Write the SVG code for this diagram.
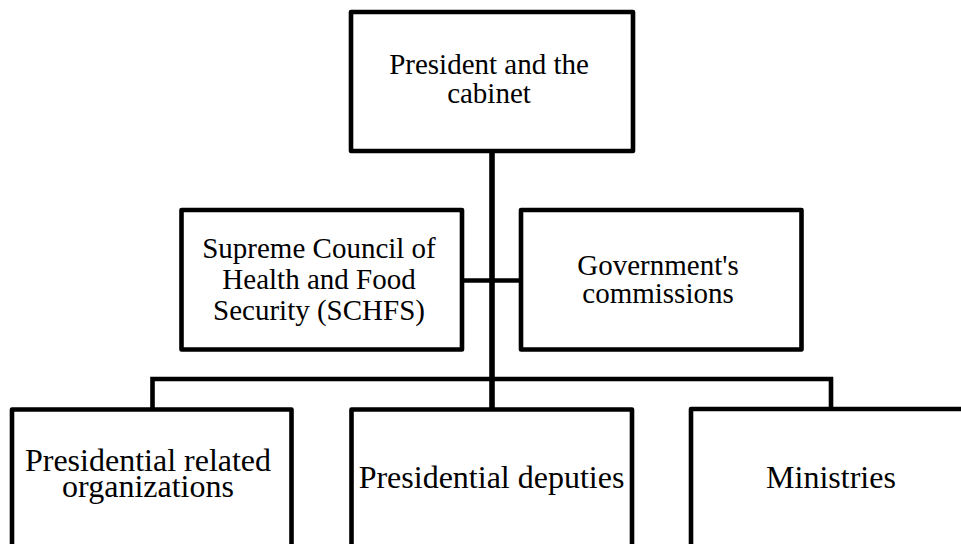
<svg xmlns="http://www.w3.org/2000/svg" width="961" height="544" viewBox="0 0 961 544">
<style>
.box{fill:#fff;stroke:#000;stroke-width:4.6;stroke-linejoin:round}
.ln{fill:none;stroke:#000;stroke-width:4.6}
.main{fill:none;stroke:#000;stroke-width:5.6}
text{font-family:'Liberation Serif','Tinos','Times New Roman','DejaVu Serif','Noto Serif',serif;fill:#000;text-anchor:middle}
.t29{font-size:29px}
.t32{font-size:32px}
</style>
<rect x="0" y="0" width="961" height="544" fill="#fff"/>
<g id="connectors">
<line class="main" x1="492" y1="151" x2="492" y2="409"/>
<line class="ln" x1="462" y1="280.5" x2="521" y2="280.5"/>
<polyline class="ln" points="152.5,409.5 152.5,379 831,379 831,409"/>
</g>
<g id="president">
<rect class="box" x="351" y="12" width="282" height="139"/>
<text class="t29" x="489" y="74">President and the</text>
<text class="t29" x="489" y="103">cabinet</text>
</g>
<g id="schfs">
<rect class="box" x="181.5" y="210" width="280.5" height="139.5"/>
<text class="t29" x="319" y="258">Supreme Council of</text>
<text class="t29" x="319" y="289">Health and Food</text>
<text class="t29" x="319" y="320">Security (SCHFS)</text>
</g>
<g id="commissions">
<rect class="box" x="521" y="210" width="280.5" height="139.5"/>
<text class="t29" x="658" y="275">Government's</text>
<text class="t29" x="658" y="303">commissions</text>
</g>
<g id="related">
<rect class="box" x="12" y="409.5" width="279.5" height="160"/>
<text class="t32" x="148" y="471">Presidential related</text>
<text class="t32" x="148" y="497">organizations</text>
</g>
<g id="deputies">
<rect class="box" x="351.5" y="409.5" width="280.5" height="160"/>
<text class="t32" x="491.5" y="488">Presidential deputies</text>
</g>
<g id="ministries">
<rect class="box" x="691" y="409" width="280" height="160"/>
<text class="t32" x="831" y="488">Ministries</text>
</g>
</svg>
